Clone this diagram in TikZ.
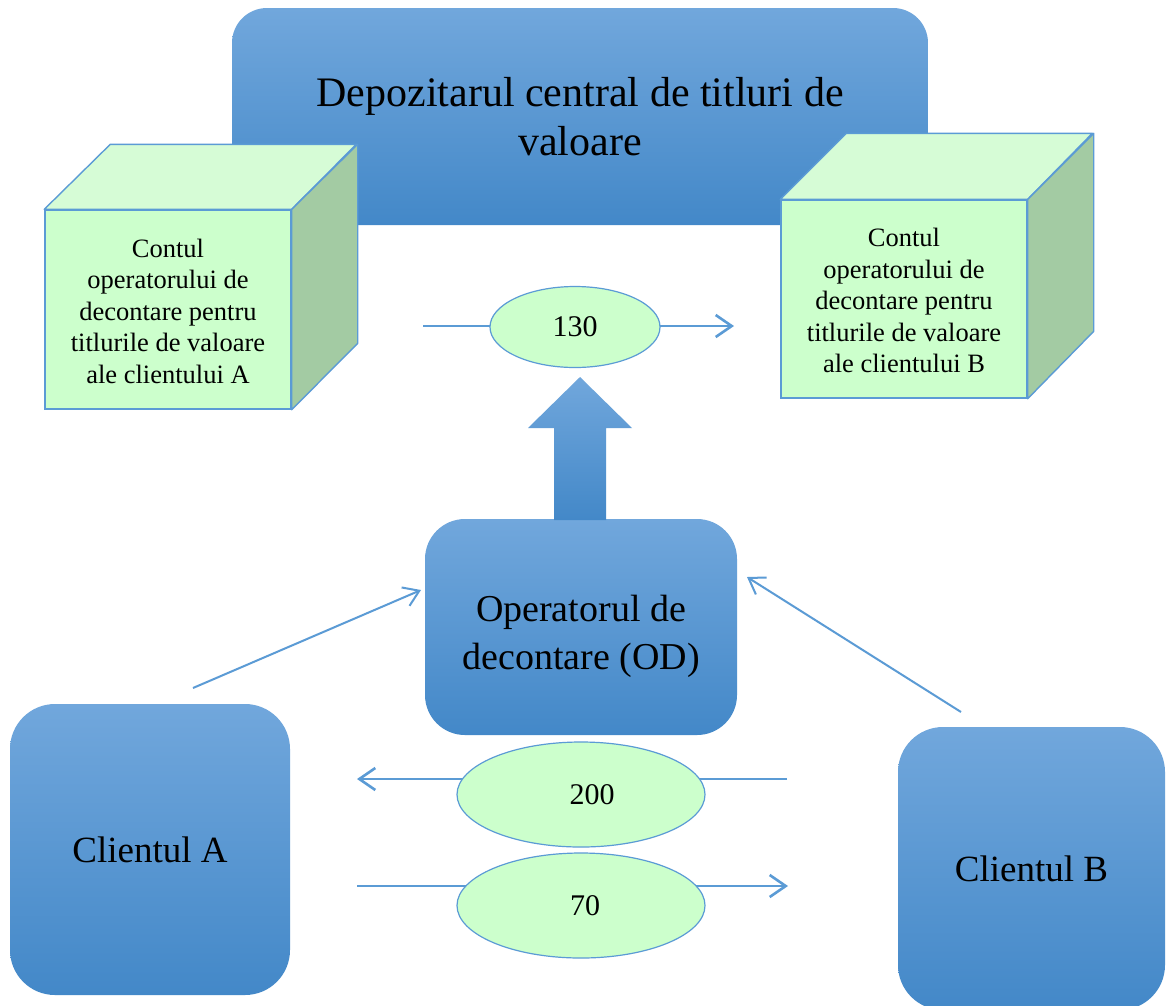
\documentclass[tikz,border=0pt]{standalone}
\usepackage{fontspec}
\setmainfont{Liberation Serif}
\usetikzlibrary{arrows.meta,shapes.geometric,backgrounds}
\definecolor{bluetop}{RGB}{113,167,220}
\definecolor{bluebot}{RGB}{67,136,200}
\definecolor{edgeblue}{RGB}{91,155,213}
\definecolor{greenfront}{RGB}{204,255,204}
\definecolor{greentop}{RGB}{214,252,214}
\definecolor{greenside}{RGB}{163,203,163}
\tikzset{
  bluebox/.style={rectangle, draw=none, top color=bluetop, bottom color=bluebot, inner sep=0pt, align=center},
  cubefront/.style={rectangle, draw=edgeblue, line width=1.4pt, fill=greenfront, inner sep=0pt, align=center,
    minimum width=246pt, font=\fontsize{26.5}{31.5}\selectfont},
  cubetop/.style={draw=edgeblue, line width=1.4pt, fill=greentop, line join=round},
  cubeside/.style={draw=edgeblue, line width=1.4pt, fill=greenside, line join=round},
  amount/.style={ellipse, draw=edgeblue, line width=1.2pt, fill=greenfront, inner sep=0pt, font=\fontsize{30}{34}\selectfont},
  conn/.style={draw=edgeblue, line width=2.6pt},
  thinconn/.style={draw=edgeblue, line width=2pt},
  tip/.style={-{Straight Barb[length=16pt,width=22pt,line width=2.6pt]}},
  thintip/.style={-{Straight Barb[length=15pt,width=20pt,line width=2pt]}}
}
\begin{document}
\begin{tikzpicture}[x=1pt,y=-1pt]
\useasboundingbox (0,0) rectangle (1166,1005);
\begin{scope}[on background layer]
\fill[white] (0,0) rectangle (1166,1005);
\end{scope}

% central depository
\node[bluebox, rounded corners=35pt, minimum width=696pt, minimum height=217pt,
  font=\fontsize{42}{49}\selectfont] (dct) at (580,116.5)
  {Depozitarul central de titluri de\\valoare};

% left cube
\node[cubefront, minimum height=199pt] (ca) at (168,309.5)
  {\strut Contul\\operatorului de\\decontare pentru\\titlurile de valoare\\ale clientului A};
\path[cubetop] (ca.north west) -- ++(66,-65) -- ++(246,0) -- (ca.north east) -- cycle;
\path[cubeside] (ca.north east) -- ++(66,-65) -- ++(0,199) -- (ca.south east) -- cycle;

% right cube
\node[cubefront, minimum height=198pt] (cb) at (904,299)
  {\strut Contul\\operatorului de\\decontare pentru\\titlurile de valoare\\ale clientului B};
\path[cubetop] (cb.north west) -- ++(66,-66) -- ++(246,0) -- (cb.north east) -- cycle;
\path[cubeside] (cb.north east) -- ++(66,-66) -- ++(0,198) -- (cb.south east) -- cycle;

% settlement operator
\node[bluebox, rounded corners=40pt, minimum width=312pt, minimum height=216pt,
  font=\fontsize{38}{48}\selectfont] (od) at (581,627)
  {\raisebox{-15pt}[0pt][0pt]{\begin{tabular}{@{}c@{}}Operatorul de\\decontare (OD)\end{tabular}}};

% clients
\node[bluebox, rounded corners=45pt, minimum width=280pt, minimum height=291pt,
  font=\fontsize{37}{43}\selectfont] (cla) at (150,849.5) {Clientul A};
\node[bluebox, rounded corners=45pt, minimum width=267pt, minimum height=283pt,
  font=\fontsize{37}{43}\selectfont] (clb) at (1031.5,868.5) {Clientul B};

% block arrow from OD up to 130
\path[top color=bluetop, bottom color=bluebot]
  (554,520) -- (554,428) -- (528,428) -- (580,377) -- (632,428) -- (606,428) -- (606,520) -- cycle;

% amounts
\node[amount, minimum width=170pt, minimum height=81pt] (e130) at (575,327) {130};
\node[amount, minimum width=248pt, minimum height=105pt] (e200) at (581,794.5) {\hspace{22pt}200};
\node[amount, minimum width=248pt, minimum height=105pt] (e70) at (581,905.5) {\hspace{8pt}70};

% connector end points
\coordinate (l130) at (423,326);
\coordinate (r130) at (734,326);
\coordinate (l200) at (357,779);
\coordinate (r200) at (787,779);
\coordinate (l70) at (357,886);
\coordinate (r70) at (788,886);
\coordinate (sa) at (193,688);
\coordinate (ea) at (421,590);
\coordinate (sb) at (961,712);
\coordinate (eb) at (747,577);

\begin{scope}[on background layer]
\draw[conn] (l130) -- (l130 -| e130.center);
\draw[conn, tip] (l130 -| e130.center) -- (r130);
\draw[conn, tip] (r200 -| e200.center) -- (l200);
\draw[conn] (r200) -- (r200 -| e200.center);
\draw[conn] (l70) -- (l70 -| e70.center);
\draw[conn, tip] (l70 -| e70.center) -- (r70);
\end{scope}

\draw[thinconn, thintip] (sa) -- (ea);
\draw[thinconn, thintip] (sb) -- (eb);
\end{tikzpicture}
\end{document}
